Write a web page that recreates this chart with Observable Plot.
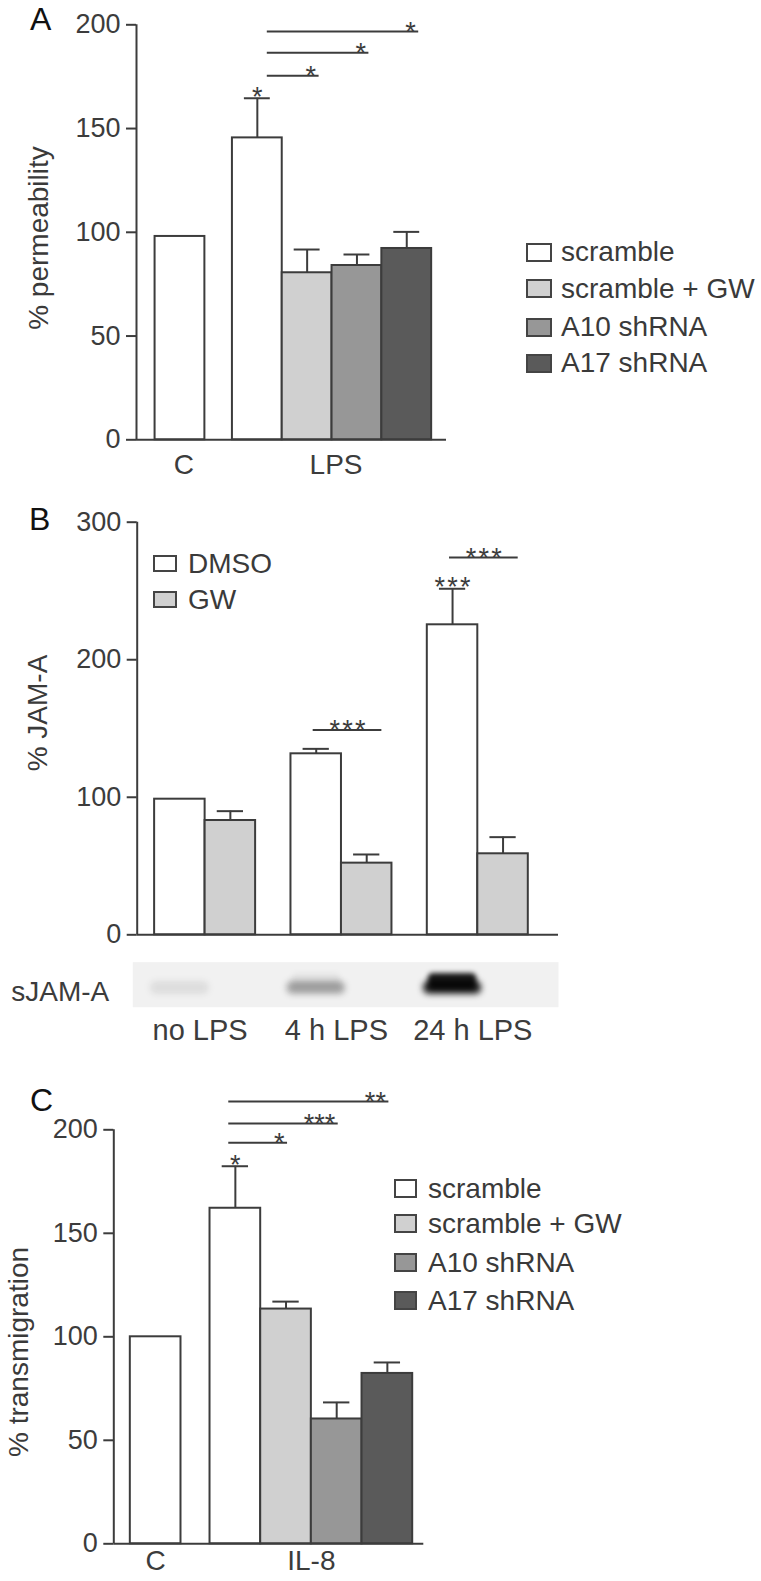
<!DOCTYPE html>
<html><head><meta charset="utf-8">
<script src="https://cdn.jsdelivr.net/npm/d3@7"></script>
<script src="https://cdn.jsdelivr.net/npm/@observablehq/plot@0.6"></script>
<style>
body{margin:0;background:#fff;}
#root{position:relative;width:761px;height:1581px;overflow:hidden;font-family:"Liberation Sans",Arial,Helvetica,sans-serif;color:#3a3a3a;background:#fff;}
.abs{position:absolute;line-height:1;white-space:nowrap;}
.plot{position:absolute;left:0;}
.box{position:absolute;box-sizing:border-box;border:2px solid #444;}
</style></head><body><div id="root"></div>
<script>
// ---------- data ----------
const seriesNames = ["scramble", "scramble + GW", "A10 shRNA", "A17 shRNA"];
const seriesColors = ["#ffffff", "#d0d0d0", "#979797", "#5a5a5a"];
const treatNames = ["DMSO", "GW"];
const treatColors = ["#ffffff", "#d0d0d0"];

// Panel A: permeability
const aGroups = ["C", "LPS", "LPS", "LPS", "LPS"];
const aSeries = ["scramble", "scramble", "scramble + GW", "A10 shRNA", "A17 shRNA"];
const aValues = [98, 145.5, 80.5, 84, 92.2];
const aSem = [0, 19.1, 11.2, 5.3, 8.0];
const aSigFrom = [1, 1, 1];
const aSigTo = [2, 3, 4];
const aSigLevel = [175.4, 186.5, 196.8];
const aSigLabel = ["*", "*", "*"];
const aStarBar = [1];
const aStarLabel = ["*"];
const aTicks = [0, 50, 100, 150, 200];

// Panel B: JAM-A
const bGroups = ["no LPS", "no LPS", "4 h LPS", "4 h LPS", "24 h LPS", "24 h LPS"];
const bSeries = ["DMSO", "GW", "DMSO", "GW", "DMSO", "GW"];
const bValues = [98.6, 83.1, 131.6, 52.1, 225.4, 58.9];
const bSem = [0, 6.8, 3.6, 6.3, 26.2, 12.1];
const bSigFrom = [2, 4];
const bSigTo = [3, 5];
const bSigLevel = [149, 274.3];
const bSigLabel = ["***", "***"];
const bStarBar = [4];
const bStarLabel = ["***"];
const bTicks = [0, 100, 200, 300];
const blotRow = "sJAM-A";
const blotIntensity = [0.1, 0, 0.38, 0, 1, 0];

// Panel C: transmigration
const cGroups = ["C", "IL-8", "IL-8", "IL-8", "IL-8"];
const cSeries = ["scramble", "scramble", "scramble + GW", "A10 shRNA", "A17 shRNA"];
const cValues = [100, 162.1, 113.4, 60.3, 82.3];
const cSem = [0, 20.3, 3.6, 8.0, 5.3];
const cSigFrom = [1, 1, 1];
const cSigTo = [2, 3, 4];
const cSigLevel = [193.7, 203.1, 213.7];
const cSigLabel = ["*", "***", "**"];
const cStarBar = [1];
const cStarLabel = ["*"];
const cTicks = [0, 50, 100, 150, 200];

// ---------- helpers ----------
const INK = "#3c3c3c";
const FONT = "'Liberation Sans', Arial, Helvetica, sans-serif";
const CAP = 0.26;
const root = document.getElementById("root");

function positions(groups, gap) {
  const p = []; let x = 0;
  groups.forEach((g, i) => { if (i > 0) { x += 1; if (g !== groups[i - 1]) x += gap; } p.push(x); });
  return p;
}

function place(el, top) {
  el.classList.add("plot");
  el.style.top = top + "px";
  root.appendChild(el);
}

function colorScale() {
  return {type: "ordinal", domain: [...seriesNames, ...treatNames], range: [...seriesColors, ...treatColors]};
}

function barPanel(c) {
  const pos = positions(c.groups, c.gap);
  const rows = c.values.map((v, i) => ({group: c.groups[i], series: c.series[i], value: v, sem: c.sem[i], pos: pos[i]}));
  const err = rows.filter(d => d.sem > 0);
  const groupsU = [...new Set(c.groups)];
  const centers = groupsU.map(g => d3.mean(rows.filter(d => d.group === g), d => d.pos));
  const nameOf = new Map(centers.map((v, i) => [v, groupsU[i]]));
  const spaced = s => c.spacedStars ? s.split("").join("\u200A") : s;
  const sig = c.sigFrom.map((f, i) => ({
    x1: rows[f].pos + c.sigStart, x2: rows[c.sigTo[i]].pos + c.sigEnd,
    level: c.sigLevel[i], label: spaced(c.sigLabel[i])
  }));
  const stars = c.starBar.map((b, i) => ({x: rows[b].pos, y: rows[b].value + rows[b].sem, label: spaced(c.starLabel[i])}));
  const marks = [
    Plot.rectY(rows, {x1: d => d.pos - 0.5, x2: d => d.pos + 0.5, y1: 0, y2: "value", fill: "series", stroke: INK, strokeWidth: 2}),
    Plot.ruleX(err, {x: "pos", y1: "value", y2: d => d.value + d.sem, stroke: INK, strokeWidth: 2}),
    Plot.ruleY(err, {y: d => d.value + d.sem, x1: d => d.pos - CAP, x2: d => d.pos + CAP, stroke: INK, strokeWidth: 2}),
    Plot.ruleX([c.xDomain[0]], {stroke: INK, strokeWidth: 2}),
    Plot.ruleY([0], {stroke: INK, strokeWidth: 2}),
    Plot.axisY({ticks: c.ticks, tickSize: 10, tickPadding: 6, strokeWidth: 2, color: INK, fontSize: 27, label: null}),
    Plot.ruleY(sig, {y: "level", x1: "x1", x2: "x2", stroke: INK, strokeWidth: 2}),
    Plot.text(sig, {
      x: d => c.sigAnchor === "end" ? d.x2 : (d.x1 + d.x2) / 2, y: "level", text: "label",
      textAnchor: c.sigAnchor, lineAnchor: "bottom", dy: 9.5, dx: c.sigAnchor === "end" ? -3 : 0,
      fontSize: 27, fill: INK
    }),
    Plot.text(stars, {x: "x", y: "y", text: "label", lineAnchor: "bottom", dy: 7.5, fontSize: 27, fill: INK})
  ];
  if (c.xLabels) {
    marks.push(Plot.axisX({ticks: centers, tickFormat: d => nameOf.get(d), tickSize: 0, tickPadding: c.xPad, dx: c.xDx || 0, fontSize: 28, color: INK, label: null}));
  }
  return Plot.plot({
    width: 761, height: c.height,
    marginTop: c.mt, marginBottom: c.mb, marginLeft: c.ml, marginRight: c.mr,
    style: {fontFamily: FONT, fontSize: "27px", color: INK, background: "transparent", overflow: "visible"},
    x: {type: "linear", domain: c.xDomain, axis: c.xLabels ? undefined : null},
    y: {domain: c.yDomain},
    color: colorScale(),
    marks
  });
}

// ---------- panel A ----------
place(barPanel({
  groups: aGroups, series: aSeries, values: aValues, sem: aSem, gap: 0.553,
  sigFrom: aSigFrom, sigTo: aSigTo, sigLevel: aSigLevel, sigLabel: aSigLabel, sigStart: 0.2, sigEnd: 0.24, sigAnchor: "end",
  starBar: aStarBar, starLabel: aStarLabel, ticks: aTicks,
  xDomain: [-0.873, 5.351], yDomain: [0, 200],
  height: 490, mt: 24.3, mb: 50.7, ml: 136, mr: 315, xLabels: true, xPad: 14, xDx: 4
}), 0);

// ---------- panel B ----------
const bXDomain = [-0.845, 7.498];
place(barPanel({
  groups: bGroups, series: bSeries, values: bValues, sem: bSem, gap: 0.7,
  sigFrom: bSigFrom, sigTo: bSigTo, sigLevel: bSigLevel, sigLabel: bSigLabel, sigStart: -0.06, sigEnd: 0.3, sigAnchor: "middle",
  starBar: bStarBar, starLabel: bStarLabel, ticks: bTicks, spacedStars: true,
  xDomain: bXDomain, yDomain: [0, 300],
  height: 460, mt: 31.7, mb: 15.7, ml: 136.7, mr: 203, xLabels: false
}), 490);

// blot strip (sJAM-A) sharing panel B's x layout
{
  const pos = positions(bGroups, 0.7);
  const blot = blotIntensity.map((v, i) => ({row: blotRow, pos: pos[i], intensity: v, group: bGroups[i]}));
  const groupsU = [...new Set(bGroups)];
  const centers = groupsU.map(g => d3.mean(blot.filter(d => d.group === g), d => d.pos));
  const nameOf = new Map(centers.map((v, i) => [v, groupsU[i]]));
  place(Plot.plot({
    width: 761, height: 100,
    marginTop: 11.7, marginBottom: 43.3, marginLeft: 136.7, marginRight: 203,
    style: {fontFamily: FONT, fontSize: "28px", color: INK, background: "transparent", overflow: "visible"},
    x: {type: "linear", domain: bXDomain},
    y: {type: "band", domain: [blotRow], padding: 0},
    marks: [
      Plot.frame({fill: "#f1f1f1", stroke: "none", insetLeft: -4.4}),
      Plot.barX(blot, {x1: d => d.pos - 0.58, x2: d => d.pos + 0.58, y: "row", fill: "#111",
        fillOpacity: d => d.intensity * 0.9, insetTop: 19, insetBottom: 13, rx: 6, imageFilter: "blur(3px)"}),
      Plot.barX(blot, {x1: d => d.pos - 0.48, x2: d => d.pos + 0.48, y: "row", fill: "#000",
        fillOpacity: d => d.intensity ** 3 * 0.9, insetTop: 11, insetBottom: 18, rx: 5, imageFilter: "blur(2.5px)"}),
      Plot.axisY({tickSize: 0, tickPadding: 28, fontSize: 28, dy: 7, color: INK, label: null}),
      Plot.axisX({ticks: centers, tickFormat: d => nameOf.get(d), tickSize: 0, tickPadding: 12, dx: -5, fontSize: 29, color: INK, label: null})
    ]
  }), 950);
}

// ---------- panel C ----------
place(barPanel({
  groups: cGroups, series: cSeries, values: cValues, sem: cSem, gap: 0.573,
  sigFrom: cSigFrom, sigTo: cSigTo, sigLevel: cSigLevel, sigLabel: cSigLabel, sigStart: -0.13, sigEnd: 0.03, sigAnchor: "end",
  starBar: cStarBar, starLabel: cStarLabel, ticks: cTicks,
  xDomain: [-0.826, 5.292], yDomain: [0, 200],
  height: 521, mt: 69.3, mb: 37.7, ml: 113.3, mr: 337.7, xLabels: true, xPad: 6
}), 1060);

// ---------- text: panel letters, y labels, legends ----------
function text(str, left, top, size, color) {
  const d = document.createElement("div");
  d.className = "abs"; d.textContent = str;
  d.style.left = left + "px"; d.style.top = top + "px"; d.style.fontSize = size + "px";
  if (color) d.style.color = color;
  root.appendChild(d);
  return d;
}
function yLabel(str, cx, cy) {
  const d = text(str, cx, cy, 28);
  d.style.transform = "translate(-50%,-50%) rotate(-90deg)";
  return d;
}
function legend(names, colors, boxX, boxW, boxH, centers, textX, size) {
  names.forEach((n, i) => {
    const b = document.createElement("div");
    b.className = "box";
    b.style.left = boxX + "px"; b.style.top = (centers[i] - boxH / 2) + "px";
    b.style.width = boxW + "px"; b.style.height = boxH + "px";
    b.style.background = colors[i];
    root.appendChild(b);
    text(n, textX, centers[i] - 0.488 * size, size);
  });
}

text("A", 30, 2.5, 32, "#111");
text("B", 29, 503, 32, "#111");
text("C", 30, 1084, 32, "#111");

yLabel("% permeability", 38.5, 238.3);
yLabel("% JAM-A", 38.4, 713);
yLabel("% transmigration", 19.3, 1352);

legend(seriesNames, seriesColors, 526, 26, 19, [252, 288.2, 327, 363], 561, 28);
legend(treatNames, treatColors, 153.3, 23.4, 17.5, [563.7, 599.7], 188, 28);
legend(seriesNames, seriesColors, 394.3, 22.4, 19.3, [1188.7, 1223.7, 1262.5, 1300.2], 428, 28);
</script>
</body></html>
